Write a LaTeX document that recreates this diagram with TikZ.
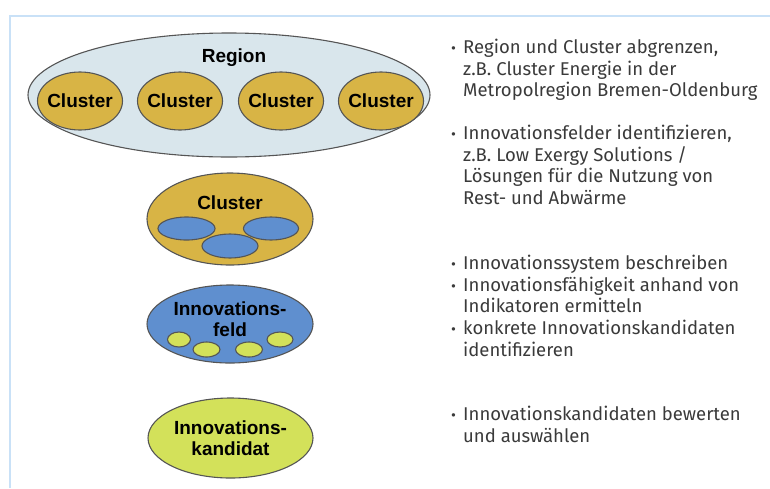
\documentclass[tikz,border=0pt]{standalone}
\usepackage{fontspec}
\setmainfont{Liberation Sans}
\newfontfamily\notefont{Fira Sans}
\usepackage{tikz}
\usetikzlibrary{shapes}
\usetikzlibrary{positioning}

\definecolor{framecol}{HTML}{C9E1F7}
\definecolor{regioncol}{HTML}{D9E6EC}
\definecolor{goldcol}{HTML}{D8B445}
\definecolor{bluecol}{HTML}{5F8FCF}
\definecolor{greencol}{HTML}{D3E15A}
\definecolor{edgecol}{HTML}{555555}
\definecolor{notecol}{HTML}{3A3A3A}

\tikzset{
  blob/.style={ellipse, draw=edgecol, line width=1.1pt, inner sep=0pt},
  blobtext/.style={font=\bfseries\fontsize{19}{21}\selectfont, align=center, inner sep=0pt},
  note/.style={font=\notefont\fontsize{18.5}{21.7}\selectfont, text=notecol, align=left,
    anchor=north west, inner sep=0pt},
  dot/.style={font=\notefont\fontsize{15}{18}\selectfont, text=notecol, anchor=base west, inner sep=0pt},
}

\begin{document}
\begin{tikzpicture}[x=1pt,y=-1pt]
  \useasboundingbox (0,0) rectangle (770,488);
  \draw[framecol, line width=2pt] (10,488) |- (770,16);

  % Region with its clusters
  \node[blob, fill=regioncol, minimum width=402, minimum height=124] (region) at (229,95) {};
  \node[blobtext] (regiontxt) at (234,58) {Region};
  \foreach \x [count=\i] in {80,180,281,381} {
    \node[blob, fill=goldcol, minimum width=85, minimum height=58] (cl\i) at (\x,101) {};
    \node[blobtext] (cltxt\i) at (cl\i) {Cluster};
  }

  % one cluster
  \node[blob, fill=goldcol, minimum width=166, minimum height=92] (cluster) at (230,219) {};
  \node[blobtext] (clustertxt) at (230,203) {Cluster};
  \node[blob, fill=bluecol, minimum width=57, minimum height=23] (fa) at (186.5,228.5) {};
  \node[blob, fill=bluecol, minimum width=55, minimum height=23] (fb) at (271,228.5) {};
  \node[blob, fill=bluecol, minimum width=56, minimum height=24] (fc) at (230,246) {};

  % one field
  \node[blob, fill=bluecol, minimum width=166, minimum height=78] (feld) at (230,324) {};
  \node[blobtext] (feldtxt) at (230,319) {Innovations-\\feld};
  \node[blob, fill=greencol, minimum width=23, minimum height=15] (ka) at (179,339.5) {};
  \node[blob, fill=greencol, minimum width=27, minimum height=15] (kb) at (206.5,349.5) {};
  \node[blob, fill=greencol, minimum width=27, minimum height=15] (kc) at (249,349.5) {};
  \node[blob, fill=greencol, minimum width=26, minimum height=15] (kd) at (280,339.5) {};

  % one candidate
  \node[blob, fill=greencol, minimum width=165, minimum height=80] (kand) at (230.5,438) {};
  \node[blobtext] (kandtxt) at (230.5,438) {Innovations-\\kandidat};

  % notes
  \foreach \y [count=\i] in {53,139,269,291,334,420}
    \node[dot] (b\i) at (451,\y) {\textbullet};
  \node[note] (n1) at (463,38) {\strut Region und Cluster abgrenzen,\\z.B. Cluster Energie in der\\Metropolregion Bremen-Oldenburg};
  \node[note] (n2) at (463,124) {\strut Innovationsfelder identifizieren,\\z.B. Low Exergy Solutions /\\Lösungen für die Nutzung von\\Rest- und Abwärme};
  \node[note] (n3) at (463,254) {\strut Innovationssystem beschreiben\\Innovationsfähigkeit anhand von\\Indikatoren ermitteln\\konkrete Innovationskandidaten\\identifizieren};
  \node[note] (n4) at (463,405) {\strut Innovationskandidaten bewerten\\und auswählen};
\end{tikzpicture}
\end{document}
